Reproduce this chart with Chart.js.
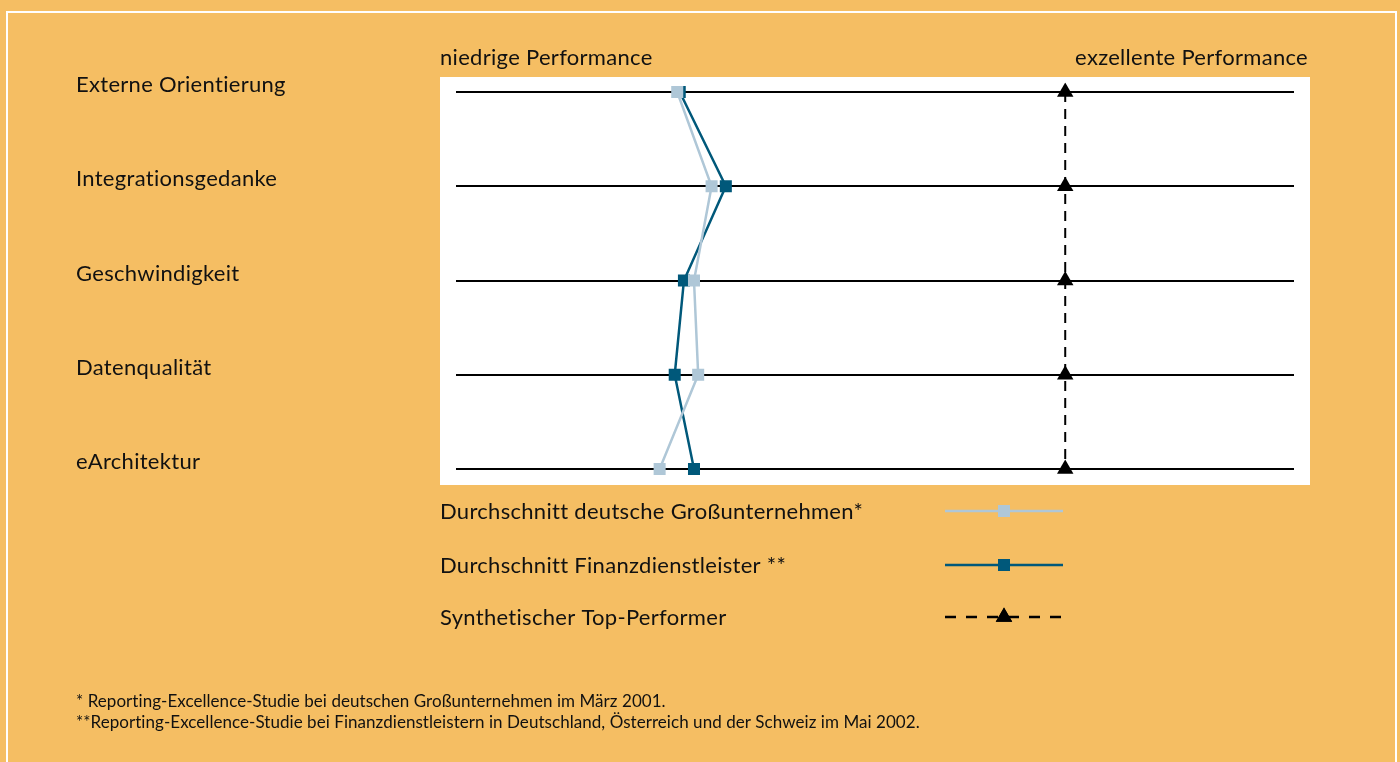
<!DOCTYPE html>
<html>
<head>
<meta charset="utf-8">
<script src="https://cdn.jsdelivr.net/npm/chart.js@4/dist/chart.umd.min.js"></script>
<style>
  html, body { margin: 0; padding: 0; background: #F5BE63; }
  #wrap { width: 1400px; height: 762px; }
</style>
</head>
<body>
<div id="wrap"><canvas id="myChart" width="1400" height="762"></canvas></div>
<script>
// Daten
const categories = ['Externe Orientierung', 'Integrationsgedanke', 'Geschwindigkeit', 'Datenqualität', 'eArchitektur'];
const grossunternehmen = [26.4, 30.5, 28.4, 28.9, 24.3];
const finanzdienstleister = [26.7, 32.2, 27.2, 26.1, 28.4];
const topPerformer = [72.7, 72.7, 72.7, 72.7, 72.7];
const seriesNames = ['Durchschnitt deutsche Großunternehmen*', 'Durchschnitt Finanzdienstleister **', 'Synthetischer Top-Performer'];
const axisLabels = ['niedrige Performance', 'exzellente Performance'];
const footnotes = [
  '* Reporting-Excellence-Studie bei deutschen Großunternehmen im März 2001.',
  '**Reporting-Excellence-Studie bei Finanzdienstleistern in Deutschland, Österreich und der Schweiz im Mai 2002.'
];

const ORANGE = '#F5BE63';
const LIGHT = '#AFC7D7';
const DARK = '#00587A';
const FONT = 'Lato, "Open Sans", sans-serif';

(() => {
  const ctx = document.getElementById('myChart').getContext('2d');

  // Hintergrund, weisser Rahmen und weisse Plotflaeche
  const background = {
    id: 'background',
    beforeDraw(chart) {
      const c = chart.ctx, a = chart.chartArea;
      c.save();
      c.fillStyle = ORANGE;
      c.fillRect(0, 0, chart.width, chart.height);
      c.strokeStyle = '#ffffff';
      c.lineWidth = 2;
      c.strokeRect(7, 12, 1389, 780);
      c.fillStyle = '#ffffff';
      c.fillRect(a.left - 16, a.top - 15, a.right - a.left + 32, a.bottom - a.top + 31);
      c.restore();
    }
  };

  // horizontale Linien je Kategorie
  const rows = {
    id: 'rows',
    beforeDatasetsDraw(chart) {
      const c = chart.ctx, a = chart.chartArea, y = chart.scales.y;
      c.save();
      c.strokeStyle = '#000';
      c.lineWidth = 2;
      categories.forEach((cat, i) => {
        const py = Math.round(y.getPixelForValue(i));
        c.beginPath();
        c.moveTo(a.left, py);
        c.lineTo(a.right, py);
        c.stroke();
      });
      c.restore();
    }
  };

  // Beschriftungen, Legende, Fussnoten
  const texts = {
    id: 'texts',
    afterDraw(chart) {
      const c = chart.ctx, a = chart.chartArea, y = chart.scales.y;
      c.save();
      c.fillStyle = '#111';
      c.font = '22px ' + FONT;
      c.letterSpacing = '0.3px';
      c.textBaseline = 'alphabetic';
      c.textAlign = 'left';
      categories.forEach((cat, i) => {
        c.fillText(cat, 76, Math.round(y.getPixelForValue(i)));
      });
      c.fillText(axisLabels[0], a.left - 16, 65);
      c.textAlign = 'right';
      c.fillText(axisLabels[1], a.right + 14, 65);

      // Legende
      c.textAlign = 'left';
      const ly = [511, 565, 617];
      const styles = [
        { color: LIGHT, dash: [], style: 'rect', r: 8.5 },
        { color: DARK, dash: [], style: 'rect', r: 8.5 },
        { color: '#000', dash: [11, 10], style: 'triangle', r: 9.5 }
      ];
      seriesNames.forEach((name, i) => {
        c.fillStyle = '#111';
        c.fillText(name, 440, ly[i] + 8);
        const s = styles[i];
        c.strokeStyle = s.color;
        c.lineWidth = 2.5;
        c.setLineDash(s.dash);
        c.beginPath();
        c.moveTo(945, ly[i]);
        c.lineTo(1063, ly[i]);
        c.stroke();
        c.setLineDash([]);
        c.fillStyle = s.color;
        Chart.helpers.drawPoint(c, { pointStyle: s.style, radius: s.r, borderWidth: 0 }, 1004, ly[i]);
        c.fill();
      });

      // Fussnoten
      c.fillStyle = '#111';
      c.font = '17px ' + FONT;
      c.letterSpacing = '0.05px';
      c.fillText(footnotes[0], 76, 707);
      c.fillText(footnotes[1], 76, 728);
      c.restore();
    }
  };

  new Chart(ctx, {
    type: 'line',
    data: {
      labels: categories,
      datasets: [
        {
          label: seriesNames[0],
          data: grossunternehmen,
          borderColor: LIGHT,
          backgroundColor: LIGHT,
          borderWidth: 2.5,
          pointStyle: 'rect',
          pointRadius: 8.5,
          pointBorderWidth: 0,
          order: 1
        },
        {
          label: seriesNames[1],
          data: finanzdienstleister,
          borderColor: DARK,
          backgroundColor: DARK,
          borderWidth: 2.5,
          pointStyle: 'rect',
          pointRadius: 8.5,
          pointBorderWidth: 0,
          order: 2
        },
        {
          label: seriesNames[2],
          data: topPerformer,
          borderColor: '#000',
          backgroundColor: '#000',
          borderWidth: 2,
          borderDash: [10, 7],
          pointStyle: 'triangle',
          pointRadius: 9.5,
          pointBorderWidth: 0,
          order: 3
        }
      ]
    },
    options: {
      indexAxis: 'y',
      responsive: false,
      animation: false,
      layout: { padding: { left: 456, right: 106, top: 92, bottom: 293 } },
      scales: {
        x: { type: 'linear', min: 0, max: 100, display: false },
        y: { type: 'category', display: false, offset: false }
      },
      plugins: {
        legend: { display: false },
        tooltip: { enabled: false }
      }
    },
    plugins: [background, rows, texts]
  });
})();
</script>
</body>
</html>
